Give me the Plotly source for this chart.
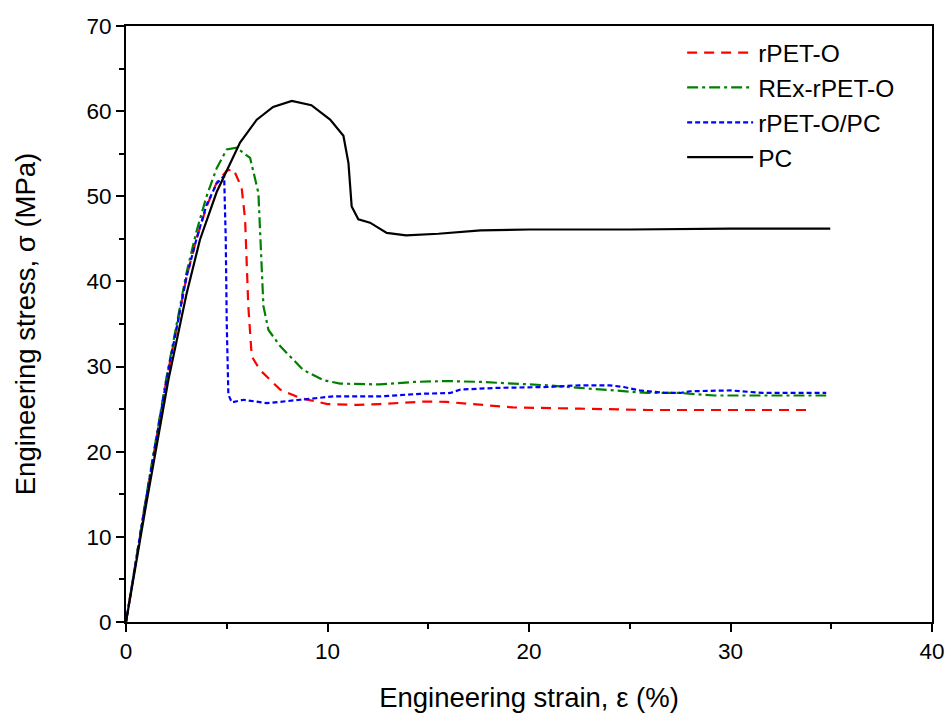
import plotly.graph_objects as go

# rPET-O (red dashed)
rpet_x = [0, 1, 2, 3, 3.5, 4, 4.5, 5.0, 5.33, 5.74, 5.91, 6.0, 6.07, 6.24, 6.65, 7.65, 8.64, 10, 11.5, 12.6, 14.9, 15.9, 17.6, 19.2, 22.5, 25.9, 29.2, 34.06]
rpet_y = [0, 14.5, 28.3, 40.5, 45.0, 48.8, 51.6, 53.0, 53.2, 51.0, 47.3, 42.2, 37.1, 31.2, 29.6, 27.3, 26.3, 25.6, 25.5, 25.6, 25.9, 25.85, 25.5, 25.2, 25.06, 24.9, 24.9, 24.9]

# REx-rPET-O (green dash-dot)
rex_x = [0, 1, 2, 3, 3.5, 4, 4.5, 5.0, 5.5, 5.8, 6.16, 6.57, 6.65, 6.74, 6.82, 7.07, 7.65, 8.8, 9.8, 10.63, 12.6, 14.3, 15.9, 17.6, 19.2, 20.9, 22.5, 24.2, 25.9, 27.5, 29.2, 31, 33, 34.75]
rex_y = [0, 14.7, 28.6, 41.0, 45.9, 50.0, 53.3, 55.5, 55.7, 55.2, 54.5, 50.4, 46.1, 41.4, 37.1, 34.3, 32.4, 29.6, 28.4, 28.0, 27.9, 28.2, 28.3, 28.2, 28.0, 27.8, 27.5, 27.2, 26.9, 26.9, 26.6, 26.6, 26.6, 26.6]

# rPET-O/PC (blue dotted)
blend_x = [0, 1, 2, 3, 3.5, 4, 4.5, 4.87, 4.95, 5.0, 5.08, 5.25, 5.83, 6.99, 8.64, 10.3, 12.6, 14.6, 16.1, 16.6, 18.4, 20.9, 22.5, 24.0, 24.7, 25.5, 26.8, 27.5, 28.0, 30.0, 31.6, 34.75]
blend_y = [0, 14.5, 28.3, 40.5, 45.0, 49.0, 51.5, 52.4, 45, 35, 26.7, 25.8, 26.1, 25.7, 26.1, 26.5, 26.5, 26.8, 26.9, 27.3, 27.5, 27.6, 27.8, 27.8, 27.6, 27.2, 26.9, 26.9, 27.1, 27.2, 26.9, 26.9]

# PC (black solid)
pc_x = [0, 1, 2.1, 3, 3.67, 4.5, 5.66, 6.49, 7.3, 8.23, 9.2, 10.13, 10.79, 11.04, 11.2, 11.53, 12.11, 12.94, 13.9, 15.5, 17.6, 20, 25, 30, 34.95]
pc_y = [0, 13.8, 28.4, 38.5, 44.9, 50.5, 56.3, 59.0, 60.5, 61.2, 60.7, 59.0, 57.1, 53.9, 48.8, 47.3, 46.9, 45.7, 45.4, 45.6, 46.0, 46.1, 46.1, 46.2, 46.2]

x_ticks = [0, 10, 20, 30, 40]
y_ticks = [0, 10, 20, 30, 40, 50, 60, 70]

FONT = "Arial, Liberation Sans, sans-serif"

fig = go.Figure()
series = [
    ("rPET-O", rpet_x, rpet_y, "#ff0000", "10px,7px"),
    ("REx-rPET-O", rex_x, rex_y, "#008000", "11px,4px,3px,4px"),
    ("rPET-O/PC", blend_x, blend_y, "#0000ff", "5px,3px"),
    ("PC", pc_x, pc_y, "#000000", "solid"),
]
for name, xs, ys, col, dash in series:
    fig.add_trace(go.Scatter(
        x=xs, y=ys, mode="lines", name=name,
        line=dict(color=col, width=2.2, dash=dash),
    ))

axis_common = dict(
    showgrid=False, zeroline=False, showline=True, linecolor="black",
    linewidth=2, mirror=True, ticks="outside", ticklen=8, tickwidth=2,
    tickcolor="black", tickfont=dict(family=FONT, size=22.5, color="black"),
    automargin=False,
)

fig.update_xaxes(
    range=[0, 40], tickvals=x_ticks, ticktext=[str(v) for v in x_ticks],
    title=dict(text="Engineering strain, ε (%)", font=dict(family=FONT, size=27.5, color="black"), standoff=27),
    minor=dict(ticks="outside", ticklen=5, tickwidth=2, tickcolor="black", showgrid=False, dtick=5, tick0=0),
    **axis_common,
)
fig.update_yaxes(
    range=[0, 70], tickvals=y_ticks, ticktext=[str(v) for v in y_ticks],
    title=dict(text="Engineering stress, σ (MPa)", font=dict(family=FONT, size=27.5, color="black"), standoff=43),
    minor=dict(ticks="outside", ticklen=5, tickwidth=2, tickcolor="black", showgrid=False, dtick=5, tick0=0),
    **axis_common,
)

fig.update_layout(
    width=945, height=713,
    margin=dict(l=126, r=13, t=26, b=91),
    plot_bgcolor="white", paper_bgcolor="white",
    legend=dict(
        x=0.69, y=0.993, xanchor="left", yanchor="top",
        font=dict(family=FONT, size=24.5, color="black"),
        bgcolor="rgba(0,0,0,0)", borderwidth=0,
        itemwidth=66,
    ),
)

fig.write_html(
    "out.html",
    config={"displayModeBar": False},
    post_script="document.body.style.margin='0';document.body.style.overflow='hidden';",
)
